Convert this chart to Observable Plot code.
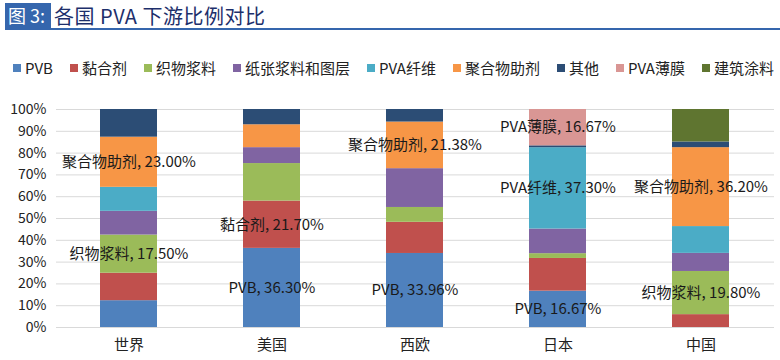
<!DOCTYPE html>
<html><head><meta charset="utf-8">
<script src="https://cdn.jsdelivr.net/npm/d3@7"></script>
<script src="https://cdn.jsdelivr.net/npm/@observablehq/plot@0.6"></script>
<style>
body{margin:0;width:780px;height:360px;background:#fff;font-family:"Noto Sans CJK SC",sans-serif;position:relative;overflow:hidden}
#title{position:absolute;left:5px;top:3px;width:775px;height:25px;border-bottom:2px solid #3566ad;display:flex;align-items:center}
#title .box{background:#3566ad;color:#fff;font-size:18px;height:25px;line-height:25px;padding:0 6px 0 3px;font-weight:400}
#title .t{color:#1d2f6b;font-size:20px;margin-left:3px;font-weight:400;letter-spacing:0.5px}
#legend{position:absolute;left:13px;right:6px;top:57px;display:flex;justify-content:space-between;font-size:15px;color:#222}
#legend .it{display:flex;align-items:center;white-space:nowrap}
#legend .sw{width:8px;height:8px;margin-right:4px}
#chart{position:absolute;left:0;top:90px}
</style></head>
<body>
<div id="title"><span class="box">图 3:</span><span class="t">各国 PVA 下游比例对比</span></div>
<div id="legend"></div>
<div id="chart"></div>
<script>
const countries = ["世界","美国","西欧","日本","中国"];
const categories = ["PVB","黏合剂","织物浆料","纸张浆料和图层","PVA纤维","聚合物助剂","其他","PVA薄膜","建筑涂料"];
const colors = ["#4f81bd","#c0504d","#9bbb59","#8064a2","#4bacc6","#f79646","#2c4d75","#d99694","#5f7530"];
// values per country, in category order (%)
const world      = [12.3, 12.6, 17.5, 10.9, 11.0, 23.0, 12.7, 0, 0];
const usa        = [36.3, 21.7, 17.2, 7.3, 0, 10.5, 7.0, 0, 0];
const westEurope = [33.96, 14.3, 6.8, 17.8, 0, 21.38, 5.76, 0, 0];
const japan      = [16.67, 15.0, 2.2, 11.3, 37.3, 0, 0.86, 16.67, 0];
const china      = [0, 5.9, 19.8, 8.3, 12.3, 36.2, 2.6, 0, 14.9];
const yTicks = [0,10,20,30,40,50,60,70,80,90,100];
// labelled segments: [country, category]
const labelled = [["世界","聚合物助剂"],["世界","织物浆料"],["美国","黏合剂"],["美国","PVB"],["西欧","聚合物助剂"],["西欧","PVB"],["日本","PVA薄膜"],["日本","PVA纤维"],["日本","PVB"],["中国","聚合物助剂"],["中国","织物浆料"]];

const series = [world, usa, westEurope, japan, china];
const rows = [];
countries.forEach((c,i)=>categories.forEach((k,j)=>{
  const v = series[i][j];
  if (v > 0) rows.push({country:c, category:k, value:v,
    label: labelled.some(([a,b])=>a===c&&b===k) ? `${k}, ${v.toFixed(2)}%` : null});
}));

const lg = document.getElementById("legend");
categories.forEach((k,j)=>{
  const it = document.createElement("div"); it.className="it";
  const sw = document.createElement("span"); sw.className="sw"; sw.style.background=colors[j];
  const tx = document.createElement("span"); tx.textContent=k;
  it.append(sw,tx); lg.append(it);
});

const chart = Plot.plot({
  width: 780, height: 270,
  marginTop: 19, marginBottom: 33, marginLeft: 56, marginRight: 6,
  style: {fontFamily: "'Noto Sans CJK SC', sans-serif", fontSize: "14px", color: "#222", background: "transparent"},
  x: {domain: countries, paddingInner: 0.6, paddingOuter: 0.3, tickSize: 0, tickPadding: 12, label: null},
  y: {domain: [0,100], ticks: yTicks, tickFormat: d => d + "%", tickSize: 0, tickPadding: 10, label: null},
  color: {domain: categories, range: colors},
  marks: [
    Plot.ruleY(yTicks, {stroke: "#d9d9d9", strokeWidth: 1}),
    Plot.barY(rows, Plot.stackY({x: "country", y: "value", fill: "category", z: "category", order: categories})),
    Plot.text(rows, Plot.stackY({x: "country", y: "value", z: "category", order: categories, text: "label", fill: "#1a1a1a", fontSize: 15}))
  ]
});
chart.querySelectorAll("g[aria-label='x-axis tick label'] text, g[aria-label='x-axis'] text").forEach(t=>t.style.fontSize="15px");
document.getElementById("chart").append(chart);
</script>
</body></html>
